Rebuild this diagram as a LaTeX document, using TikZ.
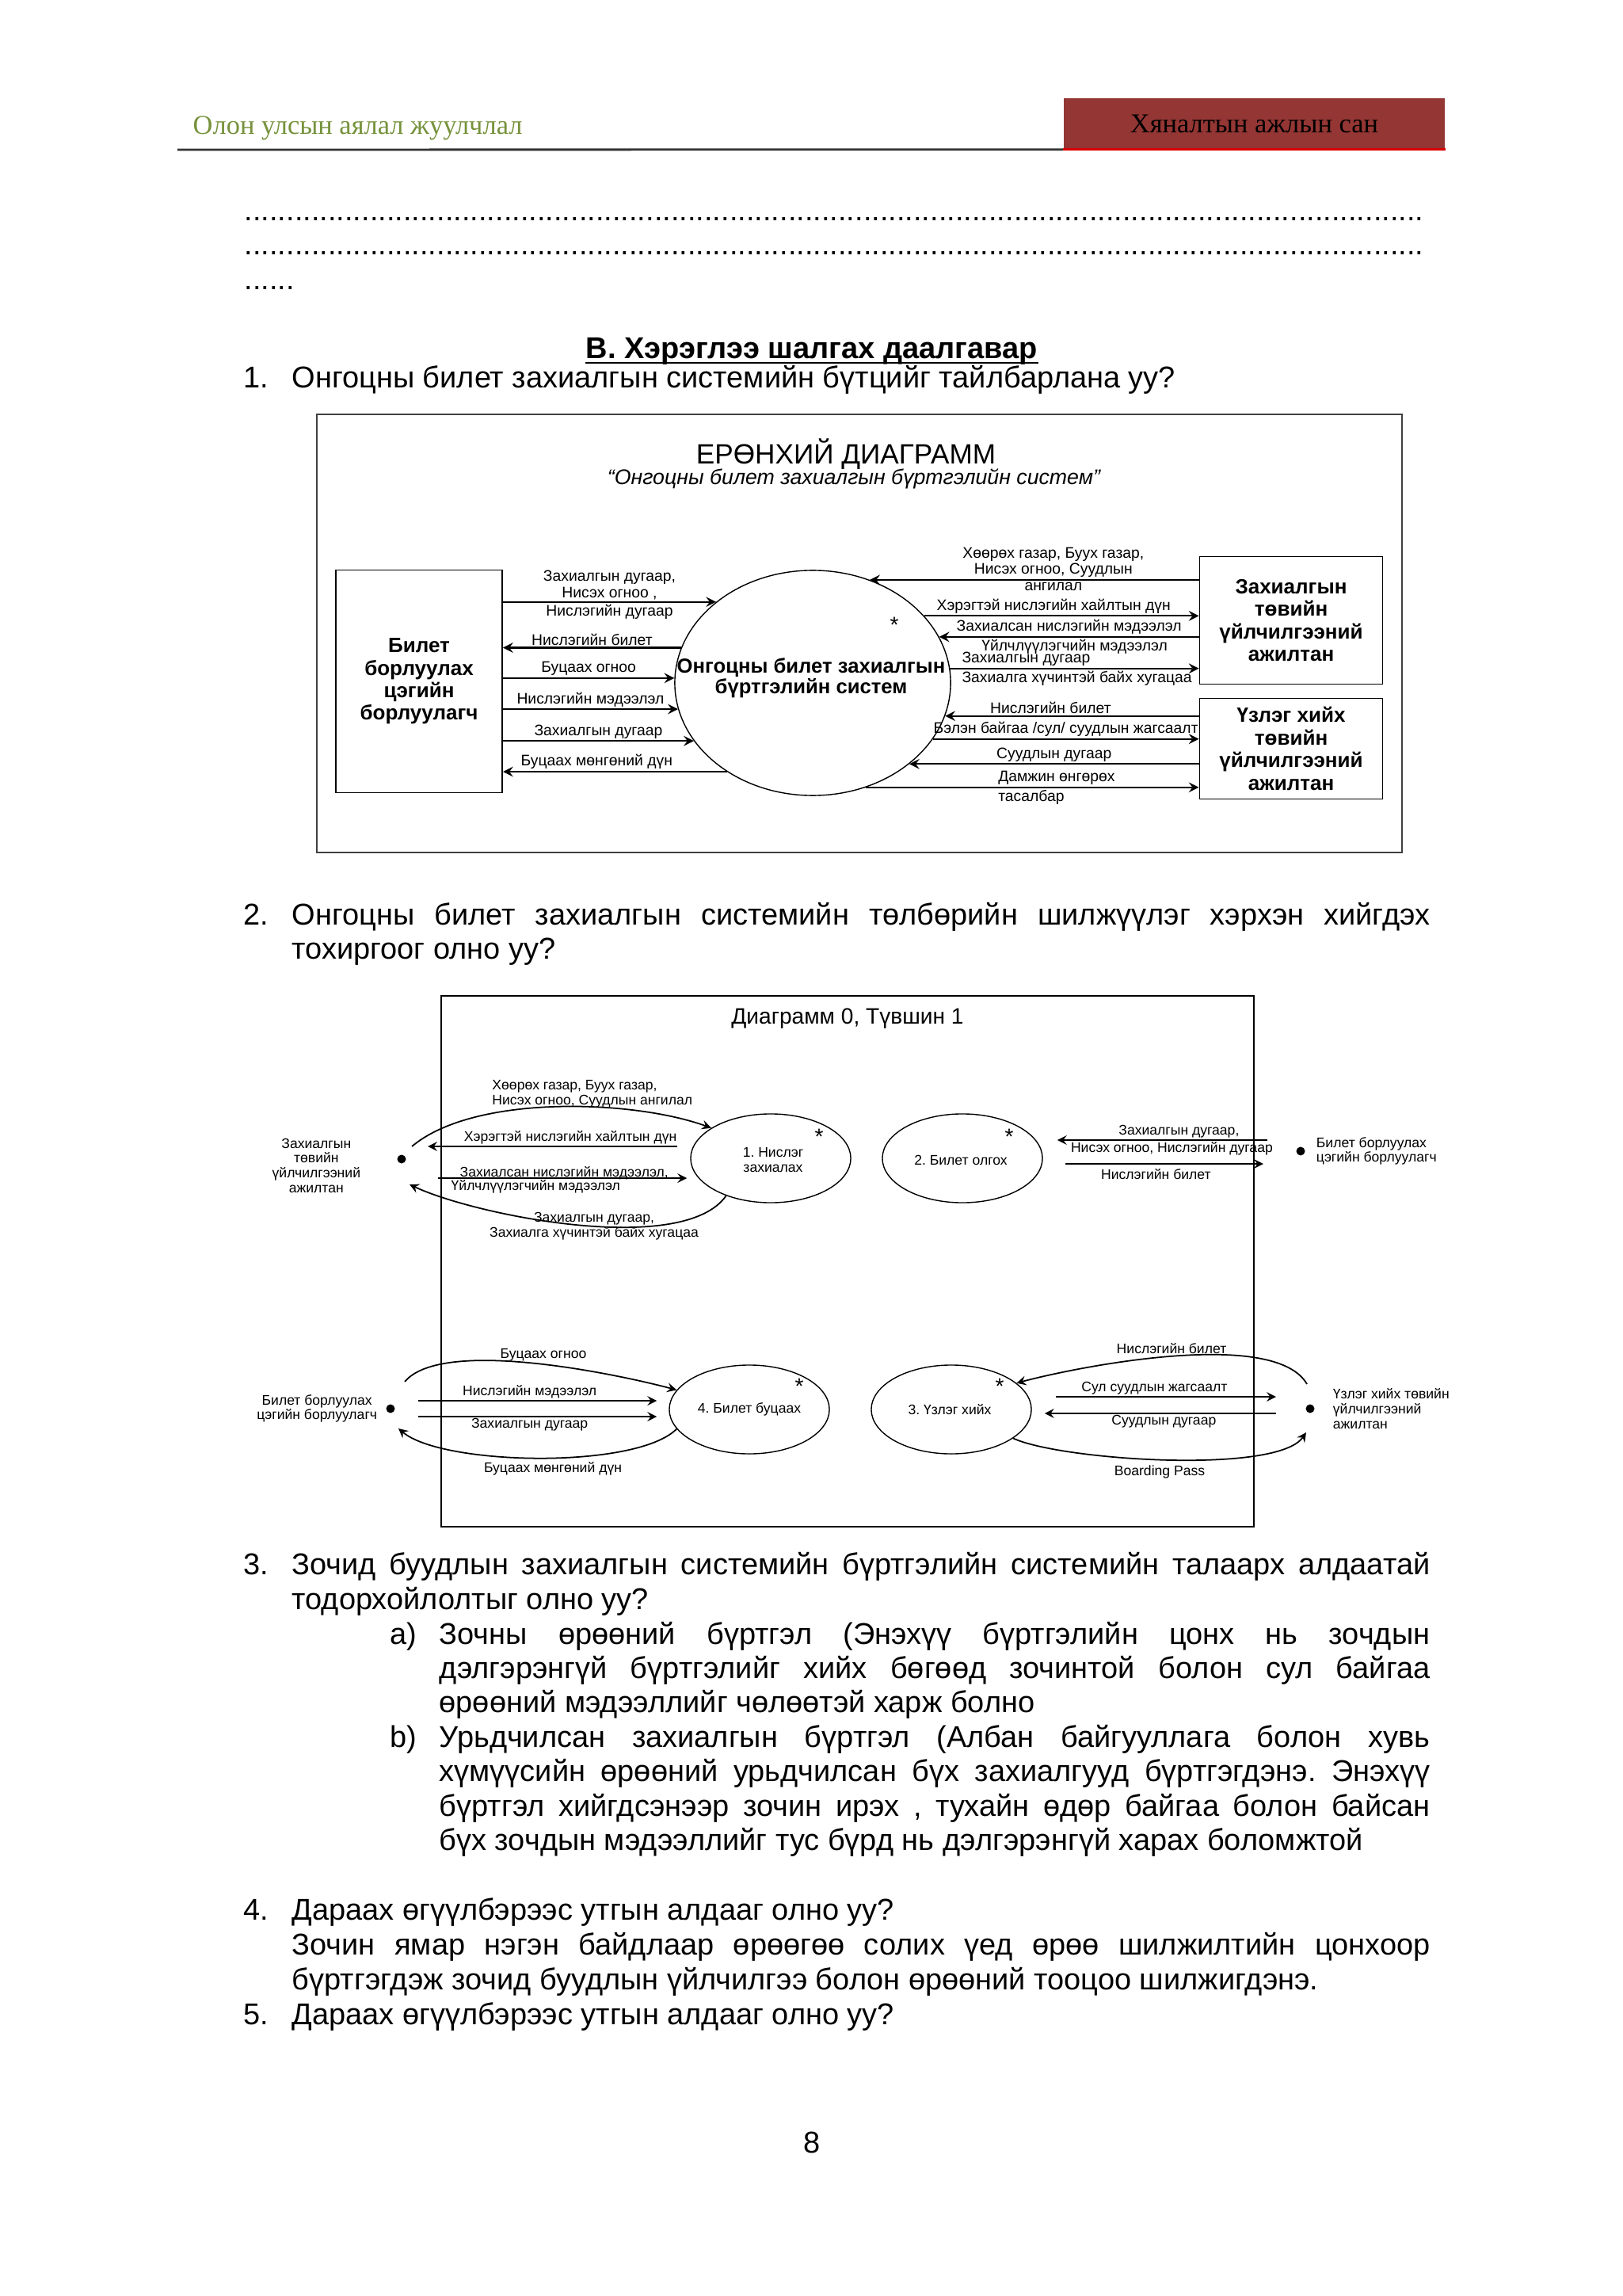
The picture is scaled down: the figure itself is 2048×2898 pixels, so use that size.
\documentclass[tikz,border=0pt]{standalone}
\usepackage{fontspec}
\setmainfont{Liberation Sans}
\newfontfamily\hdrfont{Liberation Serif}
\usepackage{xcolor}
\usetikzlibrary{positioning,shapes.geometric}

\definecolor{hdrolive}{HTML}{76923C}
\definecolor{hdrred}{HTML}{943634}

\newcommand{\jline}[2]{\makebox[#1][s]{#2}}
\newcommand{\dotrow}[1]{\makebox[#1]{\leaders\hbox{.}\hfill}}
\frenchspacing

\begin{document}
\begin{tikzpicture}[x=0.01cm, y=-0.01cm,
    txt/.style={anchor=base west, inner sep=0pt, font=\fontsize{10.8}{13}\selectfont},
    outline/.style={draw=black!75, line width=0.5pt},
    entity/.style={rectangle, draw, line width=0.5pt, inner sep=0pt, align=center, font=\fontsize{7.4}{8.1}\selectfont\bfseries},
    process/.style={ellipse, draw, line width=0.4pt, inner sep=0pt},
    ptext/.style={inner sep=0pt, align=center, font=\fontsize{7.3}{7.5}\selectfont\bfseries},
    flow/.style={->, >=stealth, line width=0.6pt},
    dlbl/.style={inner sep=0.6pt, align=center, font=\fontsize{5.5}{5.8}\selectfont},
    proc2/.style={ellipse, draw, line width=0.4pt, inner sep=0pt, minimum width=2.02cm, minimum height=1.12cm},
    p2text/.style={inner sep=0pt, align=center, font=\fontsize{5}{5.4}\selectfont},
    flow2/.style={->, >=stealth, line width=0.5pt},
    slbl/.style={inner sep=0.5pt, align=center, font=\fontsize{5}{5.4}\selectfont},
    extlbl/.style={inner sep=0pt, font=\fontsize{5}{5.3}\selectfont},
    blob/.style={circle, fill, inner sep=0pt, minimum size=0.11cm},
    ast/.style={inner sep=0pt, font=\fontsize{8}{8}\selectfont}
]
    \useasboundingbox (0,0) rectangle (2048,2898);

    % Page header
    \node[fill=hdrred, inner sep=0pt, minimum width=4.81cm, minimum height=0.64cm, font=\hdrfont\fontsize{9.8}{12}\selectfont] (hright) at (1583.5,156) {Хяналтын ажлын сан};
    \draw[red!85!black, line width=0.7pt] (hright.south west) -- (hright.south east);
    \draw[black!80, line width=0.8pt] (224,189) -- (hright.south west);
    \node[anchor=base west, inner sep=0pt, text=hdrolive, font=\hdrfont\fontsize{9.8}{12}\selectfont] (hleft) at (243,170) {Олон улсын аялал жуулчлал};

    % Dotted answer lines
    \node[txt] (dots1) at (308,279) {\dotrow{14.90cm}};
    \node[txt] (dots2) at (308,322) {\dotrow{14.90cm}};
    \node[txt] (dots3) at (308,366) {......};

    % Section heading and question 1
    \node[anchor=base, inner sep=0pt, font=\fontsize{10.8}{13}\selectfont\bfseries] (head) at (1025,453) {В. Хэрэглээ шалгах даалгавар};
    \draw[line width=0.7pt] ([yshift=-1.4pt]head.base west) -- ([yshift=-1.4pt]head.base east);
    \node[txt] (q1num) at (307,490) {1.};
    \node[txt] (q1) at (368,490) {Онгоцны билет захиалгын системийн бүтцийг тайлбарлана уу?};

    % Diagram 1: context diagram
    \draw[outline] (400,523) rectangle (1770,1076);
    \node[font=\fontsize{10}{12}\selectfont] (d1title) at (1068,573) {ЕРӨНХИЙ ДИАГРАММ};
    \node[font=\fontsize{7.6}{9}\selectfont\itshape] (d1sub) at (1078,604) {“Онгоцны билет захиалгын бүртгэлийн систем”};

    \node[entity, minimum width=2.10cm, minimum height=2.81cm] (seller) at (529,860) {Билет\\борлуулах\\цэгийн\\борлуулагч};
    \node[process, minimum width=3.48cm, minimum height=2.84cm] (sys) at (1026,862) {};
    \node[ptext] (systxt) at (1024,856) {Онгоцны билет захиалгын\\бүртгэлийн систем};
    \node[ast] (sysast) at ([xshift=1.03cm, yshift=0.73cm]sys.center) {*};
    \node[entity, minimum width=2.31cm, minimum height=1.61cm] (booking) at (1630,783) {Захиалгын\\төвийн\\үйлчилгээний\\ажилтан};
    \node[entity, minimum width=2.31cm, minimum height=1.27cm] (checkin) at (1630,945) {Үзлэг хийх\\төвийн\\үйлчилгээний\\ажилтан};

    % seller <-> system
    \draw[flow] (seller.east |- sys.140) -- node[above=0pt, dlbl] {Захиалгын дугаар,\\Нисэх огноо ,} node[below=0pt, dlbl] {Нислэгийн дугаар} (sys.140);
    \draw[flow] (sys.165) -- node[above=0pt, dlbl] {Нислэгийн билет} (seller.east |- sys.165);
    \draw[flow] (seller.east |- sys.178) -- node[above=0pt, dlbl] {Буцаах огноо} (sys.178);
    \draw[flow] (seller.east |- sys.191) -- node[above=0pt, dlbl] {Нислэгийн мэдээлэл} (sys.191);
    \draw[flow] (seller.east |- sys.206) -- node[above=0pt, dlbl] {Захиалгын дугаар} (sys.206);
    \draw[flow] (sys.226) -- node[above=0pt, dlbl, xshift=-0.23cm] {Буцаах мөнгөний дүн} (seller.east |- sys.226);

    % booking desk <-> system
    \draw[flow] (booking.west |- sys.61) -- node[above=0pt, dlbl, xshift=0.24cm] {Хөөрөх газар, Буух газар,\\Нисэх огноо, Суудлын} node[below=0pt, dlbl, xshift=0.24cm] {ангилал} (sys.61);
    \draw[flow] (sys.31) -- node[above=0pt, dlbl, xshift=-0.1cm] {Хэрэгтэй нислэгийн хайлтын дүн} (booking.west |- sys.31);
    \draw[flow] (booking.west |- sys.20) -- node[above=0pt, dlbl] {Захиалсан нислэгийн мэдээлэл} node[below=0pt, dlbl, xshift=0.07cm] {Үйлчлүүлэгчийн мэдээлэл} (sys.20);
    \draw[flow] (sys.6) -- node[pos=0, anchor=south west, dlbl, xshift=0.12cm] {Захиалгын дугаар} node[pos=0, anchor=north west, dlbl, xshift=0.12cm] {Захиалга хүчинтэй байх хугацаа} (booking.west |- sys.6);

    % check-in desk <-> system
    \draw[flow] (checkin.west |- sys.346) -- node[above=0pt, dlbl, xshift=-0.27cm] {Нислэгийн билет} (sys.346);
    \draw[flow] (sys.335) -- node[above=0pt, dlbl] {Бэлэн байгаа /сул/ суудлын жагсаалт} (checkin.west |- sys.335);
    \draw[flow] (checkin.west |- sys.320) -- node[above=0pt, dlbl] {Суудлын дугаар} (sys.320);
    \draw[flow] (sys.297) -- node[pos=0.39, anchor=south west, dlbl] {Дамжин өнгөрөх} node[pos=0.39, anchor=north west, dlbl] {тасалбар} (checkin.west |- sys.297);

    % Question 2
    \node[txt] (q2num) at (307,1167) {2.};
    \node[txt] (q2a) at (368,1167) {\jline{14.36cm}{Онгоцны билет захиалгын системийн төлбөрийн шилжүүлэг хэрхэн хийгдэх}};
    \node[txt] (q2b) at (368,1210) {тохиргоог олно уу?};

    % Diagram 2: level 1
    \draw[black, line width=0.5pt] (557,1257) rectangle (1583,1927);
    \node[font=\fontsize{8}{10}\selectfont] (d2title) at (1070,1286) {Диаграмм 0, Түвшин 1};

    \node[proc2] (p1) at (973,1462) {};
    \node[p2text] (p1txt) at (976,1464) {1. Нислэг\\захиалах};
    \node[ast] (p1ast) at ([xshift=0.61cm, yshift=0.27cm]p1.center) {*};
    \node[proc2] (p2) at (1215,1462) {};
    \node[p2text] (p2txt) at (1213,1464) {2. Билет олгох};
    \node[ast] (p2ast) at ([xshift=0.59cm, yshift=0.27cm]p2.center) {*};
    \node[proc2] (p4) at (946,1779) {};
    \node[p2text] (p4txt) at (946,1779) {4. Билет буцаах};
    \node[ast] (p4ast) at ([xshift=0.63cm, yshift=0.29cm]p4.center) {*};
    \node[proc2] (p3) at (1201,1779) {};
    \node[p2text] (p3txt) at (1199,1779) {3. Үзлэг хийх};
    \node[ast] (p3ast) at ([xshift=0.61cm, yshift=0.29cm]p3.center) {*};

    % External agents
    \node[blob] (zakdot) at (507,1463) {};
    \node[extlbl, align=center, left=0.45cm of zakdot, yshift=-0.08cm] (zaklbl) {Захиалгын\\төвийн\\үйлчилгээний\\ажилтан};
    \node[blob] (sellA) at (1642,1453) {};
    \node[extlbl, align=left, right=0.13cm of sellA] (sellAlbl) {Билет борлуулах\\цэгийн борлуулагч};
    \node[blob] (sellB) at (493,1778) {};
    \node[extlbl, align=center, left=0.1cm of sellB] (sellBlbl) {Билет борлуулах\\цэгийн борлуулагч};
    \node[blob] (checkdot) at (1654,1778) {};
    \node[extlbl, align=left, right=0.22cm of checkdot] (checklbl) {Үзлэг хийх төвийн\\үйлчилгээний\\ажилтан};

    % booking desk <-> 1
    \draw[flow2] ([xshift=0.13cm, yshift=0.16cm]zakdot.center) to[out=40, in=160, looseness=0.7] (p1.153);
    \node[slbl, align=left, anchor=west] (l1a) at (619,1381) {Хөөрөх газар, Буух газар,\\Нисэх огноо, Суудлын ангилал};
    \draw[flow2, shorten <=0.16cm, shorten >=0.33cm] ([yshift=0.15cm]p1.west) -- node[above=0pt, slbl, xshift=0.31cm] {Хэрэгтэй нислэгийн хайлтын дүн} ([yshift=0.15cm]p1.west -| zakdot);
    \draw[flow2, shorten <=0.46cm, shorten >=0.04cm] ([yshift=-0.25cm]p1.west -| zakdot) -- node[pos=0, anchor=south west, slbl, xshift=0.71cm, yshift=-0.05cm] {Захиалсан нислэгийн мэдээлэл,} node[pos=0, anchor=north west, slbl, xshift=0.6cm] {Үйлчлүүлэгчийн мэдээлэл} ([yshift=-0.25cm]p1.west);
    \draw[flow2] (p1.220) to[out=235, in=-25, looseness=0.6] ([xshift=0.1cm, yshift=-0.32cm]zakdot.center);
    \node[slbl] (l1b) at (750,1548) {Захиалгын дугаар,\\Захиалга хүчинтэй байх хугацаа};

    % seller <-> 2
    \draw[flow2, shorten <=0.42cm, shorten >=0.18cm] ([yshift=0.23cm]p2.east -| sellA) -- node[above=0pt, slbl, xshift=0.09cm] {Захиалгын дугаар,} node[below=0pt, slbl] {Нисэх огноо, Нислэгийн дугаар} ([yshift=0.23cm]p2.east);
    \draw[flow2, shorten <=0.28cm, shorten >=0.47cm] ([yshift=-0.07cm]p2.east) -- node[below=1pt, slbl, xshift=-0.2cm] {Нислэгийн билет} ([yshift=-0.07cm]p2.east -| sellA);

    % seller <-> 4
    \draw[flow2] ([xshift=0.18cm, yshift=0.34cm]sellB.center) to[out=50, in=165, looseness=0.55] (p4.165);
    \node[slbl] (l4a) at (686,1710) {Буцаах огноо};
    \draw[flow2, shorten <=0.35cm, shorten >=0.15cm] ([yshift=0.11cm]p4.west -| sellB) -- node[above=0pt, slbl] {Нислэгийн мэдээлэл} ([yshift=0.11cm]p4.west);
    \draw[flow2, shorten <=0.35cm, shorten >=0.15cm] ([yshift=-0.09cm]p4.west -| sellB) -- node[below=0pt, slbl] {Захиалгын дугаар} ([yshift=-0.09cm]p4.west);
    \draw[flow2] (p4.195) to[out=225, in=-40, looseness=0.53] ([xshift=0.1cm, yshift=-0.25cm]sellB.center);
    \node[slbl] (l4b) at (698,1854) {Буцаах мөнгөний дүн};

    % check-in desk <-> 3
    \draw[flow2] ([xshift=-0.04cm, yshift=0.31cm]checkdot.center) to[out=120, in=15, looseness=0.57] (p3.22);
    \node[slbl] (l3a) at (1479,1702) {Нислэгийн билет};
    \draw[flow2, shorten <=0.30cm, shorten >=0.43cm] ([yshift=0.16cm]p3.east) -- node[above=0pt, slbl, xshift=-0.21cm] {Сул суудлын жагсаалт} ([yshift=0.16cm]p3.east -| checkdot);
    \draw[flow2, shorten <=0.43cm, shorten >=0.16cm] ([yshift=-0.05cm]p3.east -| checkdot) -- node[below=0pt, slbl, xshift=-0.09cm] {Суудлын дугаар} ([yshift=-0.05cm]p3.east);
    \draw[flow2] (p3.335) to[out=-25, in=-125, looseness=0.45] ([xshift=-0.05cm, yshift=-0.3cm]checkdot.center);
    \node[slbl] (l3b) at (1464,1858) {Boarding Pass};

    % Question 3
    \node[txt] (q3num) at (307,1987) {3.};
    \node[txt] (q3a) at (368,1987) {\jline{14.36cm}{Зочид буудлын захиалгын системийн бүртгэлийн системийн талаарх алдаатай}};
    \node[txt] (q3b) at (368,2031) {тодорхойлолтыг олно уу?};
    \node[txt] (q3an) at (492,2075) {a)};
    \node[txt] (q3a1) at (554,2075) {\jline{12.50cm}{Зочны өрөөний бүртгэл (Энэхүү бүртгэлийн цонх нь зочдын}};
    \node[txt] (q3a2) at (554,2118) {\jline{12.50cm}{дэлгэрэнгүй бүртгэлийг хийх бөгөөд зочинтой болон сул байгаа}};
    \node[txt] (q3a3) at (554,2161) {өрөөний мэдээллийг чөлөөтэй харж болно};
    \node[txt] (q3bn) at (492,2205) {b)};
    \node[txt] (q3b1) at (554,2205) {\jline{12.50cm}{Урьдчилсан захиалгын бүртгэл (Албан байгууллага болон хувь}};
    \node[txt] (q3b2) at (554,2248) {\jline{12.50cm}{хүмүүсийн өрөөний урьдчилсан бүх захиалгууд бүртгэгдэнэ. Энэхүү}};
    \node[txt] (q3b3) at (554,2292) {\jline{12.50cm}{бүртгэл хийгдсэнээр зочин ирэх , тухайн өдөр байгаа болон байсан}};
    \node[txt] (q3b4) at (554,2335) {бүх зочдын мэдээллийг тус бүрд нь дэлгэрэнгүй харах боломжтой};

    % Questions 4 and 5
    \node[txt] (q4num) at (307,2423) {4.};
    \node[txt] (q4a) at (368,2423) {Дараах өгүүлбэрээс утгын алдааг олно уу?};
    \node[txt] (q4b) at (368,2467) {\jline{14.36cm}{Зочин ямар нэгэн байдлаар өрөөгөө солих үед өрөө шилжилтийн цонхоор}};
    \node[txt] (q4c) at (368,2511) {бүртгэгдэж зочид буудлын үйлчилгээ болон өрөөний тооцоо шилжигдэнэ.};
    \node[txt] (q5num) at (307,2555) {5.};
    \node[txt] (q5) at (368,2555) {Дараах өгүүлбэрээс утгын алдааг олно уу?};

    % Page number
    \node[anchor=base, inner sep=0pt, font=\fontsize{10.8}{13}\selectfont] (pagenum) at (1025,2717) {8};
\end{tikzpicture}
\end{document}
